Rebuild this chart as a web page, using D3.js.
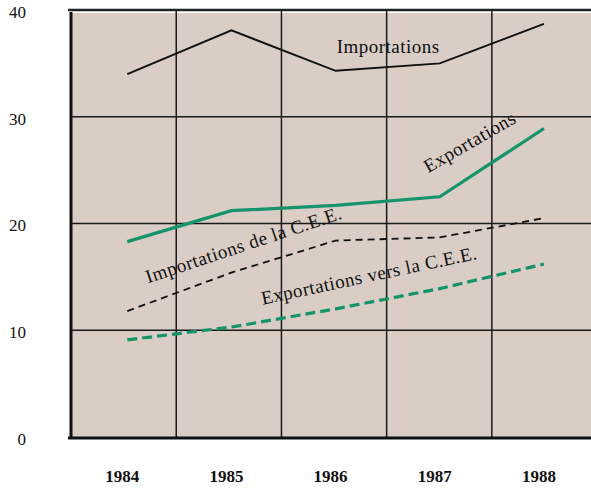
<!DOCTYPE html>
<html><head><meta charset="utf-8">
<script src="https://cdn.jsdelivr.net/npm/d3@7"></script>
<style>body{margin:0;background:#fff;}svg{display:block;}</style>
</head><body>
<svg id="chart" width="591" height="488"></svg>
<script>
const years = [1984, 1985, 1986, 1987, 1988];
const importations = [34.0, 38.1, 34.3, 35.0, 38.7];
const exportations = [18.3, 21.2, 21.7, 22.5, 28.9];
const importationsCEE = [11.8, 15.4, 18.4, 18.7, 20.5];
const exportationsCEE = [9.1, 10.3, 12.0, 13.9, 16.2];
const yTicks = [0, 10, 20, 30, 40];
const xGrid = [1984.47, 1985.48, 1986.49, 1987.5];
const labels = [
  {text: "Importations", year: 1986.01, value: 36.0, angle: 0},
  {text: "Exportations", year: 1986.89, value: 24.7, angle: -30},
  {text: "Importations de la C.E.E.", year: 1984.2, value: 14.4, angle: -18.4},
  {text: "Exportations vers la C.E.E.", year: 1985.3, value: 12.4, angle: -12}
];

const svg = d3.select("#chart");
const x = d3.scaleLinear().domain([1983.45, 1988.5]).range([70, 596]);
const y = d3.scaleLinear().domain([0, 40]).range([437, 10]);
const green = "#15946a";

svg.append("rect").attr("x", x(1983.45)).attr("y", y(40) + 3)
  .attr("width", x(1988.5) - x(1983.45)).attr("height", y(0) - y(40) - 3)
  .attr("fill", "#d9cdc5");

// grid
svg.append("g").selectAll("line").data(yTicks.filter(d => d > 0 && d < 40)).join("line")
  .attr("x1", x(1983.45)).attr("x2", x(1988.5)).attr("y1", d => y(d)).attr("y2", d => y(d))
  .attr("stroke", "#1a1a1a").attr("stroke-width", 1.5);
svg.append("g").selectAll("line").data(xGrid).join("line")
  .attr("x1", d => x(d)).attr("x2", d => x(d)).attr("y1", y(40)).attr("y2", y(0))
  .attr("stroke", "#1a1a1a").attr("stroke-width", 1.5);

// borders
svg.append("line").attr("x1", x(1983.45) - 2).attr("x2", x(1988.5)).attr("y1", y(40)).attr("y2", y(40))
  .attr("stroke", "#222").attr("stroke-width", 2.5);
svg.append("line").attr("x1", x(1983.45) + 1).attr("x2", x(1983.45) + 1).attr("y1", y(40) + 2).attr("y2", y(0) + 2)
  .attr("stroke", "#111").attr("stroke-width", 3);
svg.append("line").attr("x1", x(1983.45) - 2).attr("x2", x(1988.5)).attr("y1", y(0) + 1).attr("y2", y(0) + 1)
  .attr("stroke", "#111").attr("stroke-width", 3);

// y tick labels
svg.append("g").selectAll("text").data(yTicks).join("text")
  .attr("x", 26).attr("y", d => y(d) + 2).attr("dy", "0.35em")
  .attr("text-anchor", "end")
  .attr("font-family", "Liberation Serif, Times New Roman, serif")
  .attr("font-size", 17).attr("fill", "#111")
  .text(d => d);

// x labels
svg.append("g").selectAll("text").data(years).join("text")
  .attr("x", d => x(d) - 5).attr("y", 482)
  .attr("text-anchor", "middle")
  .attr("font-family", "Liberation Serif, Times New Roman, serif")
  .attr("font-weight", "bold")
  .attr("font-size", 17).attr("fill", "#111")
  .text(d => d);

const line = d3.line().x((d, i) => x(years[i])).y(d => y(d));
const series = [
  {data: importations, color: "#111", width: 2, dash: null},
  {data: exportations, color: green, width: 3.2, dash: null},
  {data: importationsCEE, color: "#111", width: 1.8, dash: "7,5"},
  {data: exportationsCEE, color: green, width: 3.2, dash: "10,5"}
];
svg.append("g").selectAll("path").data(series).join("path")
  .attr("d", d => line(d.data))
  .attr("fill", "none").attr("stroke", d => d.color)
  .attr("stroke-width", d => d.width)
  .attr("stroke-dasharray", d => d.dash);

svg.append("g").selectAll("text").data(labels).join("text")
  .attr("transform", d => `translate(${x(d.year)},${y(d.value)}) rotate(${d.angle})`)
  .attr("font-family", "Liberation Serif, Times New Roman, serif")
  .attr("font-size", 19).attr("letter-spacing", 0.5).attr("fill", "#111")
  .text(d => d.text);
</script>
</body></html>
